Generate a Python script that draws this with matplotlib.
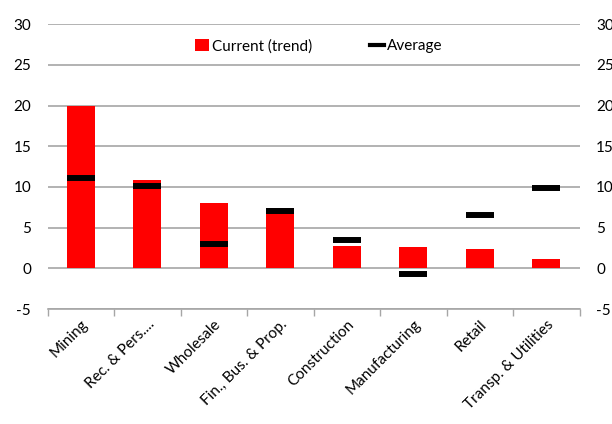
import matplotlib.pyplot as plt
from matplotlib.lines import Line2D
from matplotlib.patches import Patch
import numpy as np

categories = ['Mining', 'Rec. & Pers....', 'Wholesale', 'Fin., Bus. & Prop.',
              'Construction', 'Manufacturing', 'Retail', 'Transp. & Utilities']
current = [20.0, 10.9, 8.0, 7.45, 2.75, 2.6, 2.4, 1.1]
average = [11.1, 10.1, 3.0, 7.05, 3.5, -0.7, 6.55, 9.9]
yticks = [-5, 0, 5, 10, 15, 20, 25, 30]

plt.rcParams['font.family'] = ['Lato', 'DejaVu Sans']
plt.rcParams['font.size'] = 11

fig = plt.figure(figsize=(6.12, 4.24), dpi=100)
ax = fig.add_axes([0.078, 0.271, 0.869, 0.672])

x = np.arange(len(categories))
bw = 0.42
ax.bar(x, current, width=bw, color='#FF0000', zorder=2)
# average shown as short thick dashes across each bar
for xi, v in zip(x, average):
    ax.plot([xi - bw / 2, xi + bw / 2], [v, v], color='black', lw=4.3,
            solid_capstyle='butt', zorder=3)

ax.set_xlim(-0.5, len(categories) - 0.5)
ax.set_ylim(-5, 30)
ax.set_yticks(yticks)
ax.set_yticklabels([str(t) for t in yticks])
ax.grid(axis='y', color='#A6A6A6', lw=1.2, zorder=0)
ax.set_axisbelow(True)
for s in ['top', 'left', 'right']:
    ax.spines[s].set_visible(False)
ax.spines['bottom'].set_color('#A6A6A6')
ax.spines['bottom'].set_linewidth(1.2)

ax.set_xticks(x)
ax.set_xticklabels(categories, rotation=45, ha='right', rotation_mode='anchor')
ax.set_xticks(np.arange(len(categories) + 1) - 0.5, minor=True)
ax.tick_params(axis='x', which='major', length=0, pad=6)
ax.tick_params(axis='x', which='minor', length=5, color='#A6A6A6', width=1)
ax.tick_params(axis='y', length=0, pad=12)

ax2 = ax.twinx()
ax2.set_ylim(-5, 30)
ax2.set_yticks(yticks)
ax2.set_yticklabels([str(t) for t in yticks])
ax2.tick_params(axis='y', length=0, pad=12)
for s in ax2.spines.values():
    s.set_visible(False)

handles = [Patch(facecolor='#FF0000', label='Current (trend)'),
           Line2D([], [], color='black', lw=3, label='Average')]
ax.legend(handles=handles, loc='center', bbox_to_anchor=(0.51, 0.923), ncol=2,
          frameon=False, handlelength=0.9, handleheight=0.9, columnspacing=3.8,
          handletextpad=0.2)

fig.savefig('out.png', dpi=100)
